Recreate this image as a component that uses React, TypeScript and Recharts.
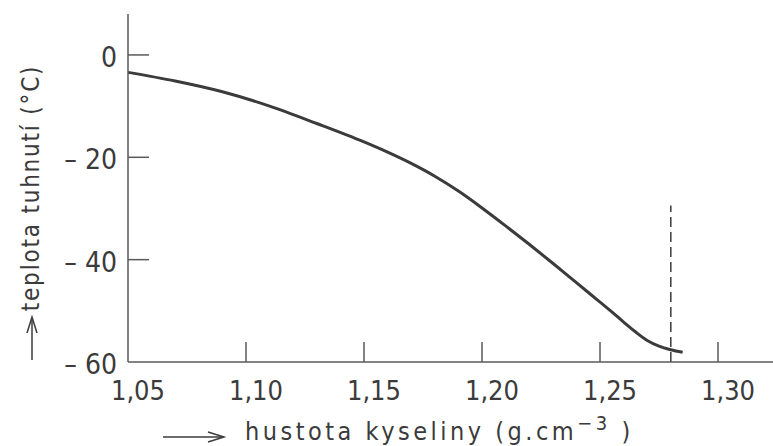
import React from 'react';
import { LineChart, Line, XAxis, YAxis, ReferenceLine } from 'recharts';

// hustota kyseliny (g/cm3) vs. teplota tuhnutí (°C)
const density = [
  1.05, 1.07, 1.09, 1.11, 1.13, 1.15, 1.16, 1.17, 1.18, 1.19, 1.2, 1.21, 1.22, 1.23, 1.24, 1.25, 1.255,
  1.26, 1.265, 1.27, 1.275, 1.28, 1.285,
];
const freezingPoint = [
  -3.4, -5.1, -7.2, -10.0, -13.4, -17.0, -19.0, -21.2, -23.7, -26.6, -29.9, -33.4, -37.0, -40.7, -44.5,
  -48.3, -50.2, -52.2, -54.1, -55.8, -56.9, -57.6, -58.1,
];
const xTicks = [1.05, 1.1, 1.15, 1.2, 1.25, 1.3];
const yTicks = [0, -20, -40, -60];
// dashed limit line
const limitDensity = 1.28;
const limitTop = -29.4;

const data = density.map((d, i) => ({ d, t: freezingPoint[i] }));

const INK = '#3b3b3b';
const AXIS = '#5a5a5a';
const FONT = '"DejaVu Sans Condensed", "DejaVu Sans", sans-serif';

const XTick = ({ x, y, payload }: any) => {
  const v = payload.value;
  return (
    <g>
      {v !== xTicks[0] && <line x1={x} x2={x} y1={y} y2={y - 20} stroke={AXIS} strokeWidth={1.5} />}
      <text x={x + 10} y={y + 38} textAnchor="middle" fontFamily={FONT} fontSize={27} fill={INK}>
        {v.toFixed(2).replace('.', ',')}
      </text>
    </g>
  );
};

const YTick = ({ x, y, payload }: any) => {
  const v = payload.value;
  const label = v < 0 ? `– ${Math.abs(v)}` : `${v}`;
  return (
    <g>
      {v !== yTicks[yTicks.length - 1] && <line x1={x} x2={x + 21} y1={y} y2={y} stroke={AXIS} strokeWidth={1.5} />}
      <text x={x - 11} y={y + 12} textAnchor="end" fontFamily={FONT} fontSize={28} fill={INK}>
        {label}
      </text>
    </g>
  );
};

const XTitle = () => (
  <g>
    <line x1={163} x2={222} y1={437} y2={437} stroke={INK} strokeWidth={1.5} />
    <path d="M208,432 L224,437 L208,442" fill="none" stroke={INK} strokeWidth={1.5} />
    <text x={245} y={440} fontFamily={FONT} fontSize={25} letterSpacing={3.5} fill={INK}>
      hustota kyseliny (g.cm
      <tspan dy={-10} fontSize={20}>−3</tspan>
      <tspan dy={10}> )</tspan>
    </text>
  </g>
);

const YTitle = () => (
  <g>
    <line x1={32} x2={32} y1={360} y2={319} stroke={INK} strokeWidth={1.5} />
    <path d="M27,333 L32,317 L37,333" fill="none" stroke={INK} strokeWidth={1.5} />
    <text
      x={0}
      y={0}
      transform="translate(39,188) rotate(-90)"
      textAnchor="middle"
      fontFamily={FONT}
      fontSize={24}
      letterSpacing={1.8}
      fill={INK}
    >
      teplota tuhnutí (°C)
    </text>
  </g>
);

export default function App() {
  return (
    <div style={{ position: 'absolute', left: 0, top: 0, background: '#fff' }}>
      <LineChart width={773} height={446} data={data} margin={{ top: 14, right: 0, bottom: 0, left: 0 }}>
        <XAxis
          dataKey="d"
          type="number"
          domain={[1.05, 1.3233]}
          ticks={xTicks}
          allowDataOverflow
          height={84}
          tickSize={0}
          tickMargin={0}
          tick={<XTick />}
          tickLine={false}
          axisLine={{ stroke: AXIS, strokeWidth: 1.5 }}
          label={() => <XTitle />}
        />
        <YAxis
          type="number"
          domain={[-60, 8]}
          ticks={yTicks}
          allowDataOverflow
          width={128}
          tickSize={0}
          tickMargin={0}
          tick={<YTick />}
          tickLine={false}
          axisLine={{ stroke: AXIS, strokeWidth: 1.5 }}
          label={() => <YTitle />}
        />
        <ReferenceLine
          segment={[
            { x: limitDensity, y: -60 },
            { x: limitDensity, y: limitTop },
          ]}
          stroke={INK}
          strokeWidth={1.5}
          strokeDasharray="10 5"
        />
        <Line
          type="monotone"
          dataKey="t"
          stroke={INK}
          strokeWidth={3}
          dot={false}
          isAnimationActive={false}
        />
      </LineChart>
    </div>
  );
}
